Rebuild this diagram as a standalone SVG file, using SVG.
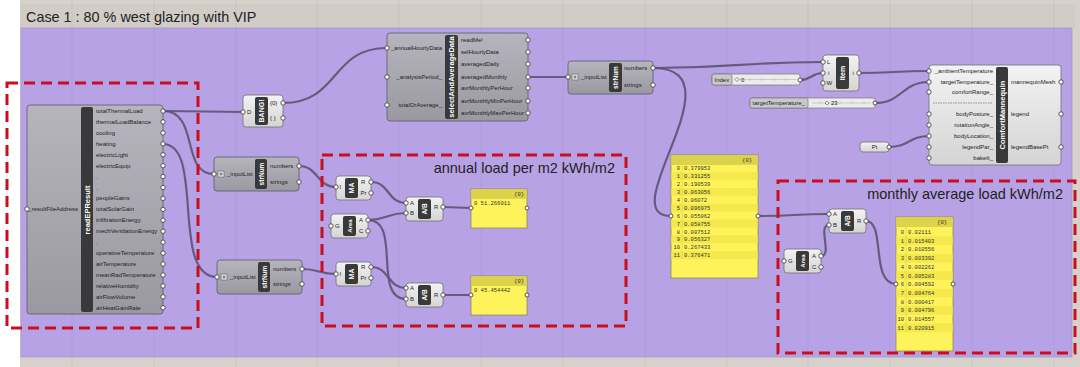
<svg xmlns="http://www.w3.org/2000/svg" width="1080" height="367" viewBox="0 0 1080 367">
<defs>
<linearGradient id="gl" x1="0" y1="0" x2="0" y2="1"><stop offset="0" stop-color="#f3f3f3"/><stop offset="1" stop-color="#d4d4d4"/></linearGradient>
<linearGradient id="gd" x1="0" y1="0" x2="0" y2="1"><stop offset="0" stop-color="#b6b5bd"/><stop offset="1" stop-color="#9a99a2"/></linearGradient>
</defs>
<style>
.wire{fill:none;stroke:#5d5373;stroke-width:2.2;stroke-linecap:round;opacity:.9}
.cl{fill:url(#gl);stroke:#707070;stroke-width:.8}
.cd{fill:url(#gd);stroke:#5c5c64;stroke-width:.8}
.bar{fill:#393939}
.bt{font-family:"Liberation Sans",Arial,sans-serif;font-weight:bold;fill:#fff;text-anchor:middle}
.l{font-family:"Liberation Sans",Arial,sans-serif;font-size:6px;fill:#222}
.e{text-anchor:end}
.m{text-anchor:middle}
.p{fill:#fff;stroke:#333;stroke-width:.8}
.pan{fill:#fff35c;stroke:#8c8a55;stroke-width:.8}
.ph{fill:#dcd24c}
.ps{fill:#f4e84c}
.pt{font-family:"Liberation Mono","DejaVu Sans Mono",monospace;font-size:5.5px;fill:#333}
.red{fill:none;stroke:#c90f1f;stroke-width:3;stroke-dasharray:11 6}
.big{font-family:"Liberation Sans",Arial,sans-serif;font-size:14.5px;fill:#222}
.grid{stroke:#000;stroke-opacity:.05;stroke-width:1}
.sl{fill:#ececec;stroke:#777;stroke-width:.7}
.slb{fill:#c9c9c9;stroke:#777;stroke-width:.7}
</style>
<rect x="0" y="0" width="1080" height="367" fill="#ffffff"/>
<rect x="20" y="0" width="1060" height="367" fill="#d6d2cb"/>
<rect x="20" y="4" width="1055" height="24" fill="#d1cdc6"/>
<text x="26" y="21.5" font-family="Liberation Sans, Arial, sans-serif" font-size="14.4" fill="#222">Case 1 : 80 % west glazing with VIP</text>
<rect x="21" y="28" width="1051" height="329" fill="#b8a2e6" stroke="#a996d0" stroke-width=".8"/>
<g id="grid">
<path class="grid" d="M72,0V367M154,0V367M236,0V367M317,0V367M399,0V367M481,0V367M563,0V367M645,0V367M727,0V367M808,0V367M890,0V367M972,0V367M1054,0V367"/>
</g>

<g id="connectors">
<path class="wire" d="M163,111 C205,111 205,112 243,112"/>
<path class="wire" d="M163,111 C200,111 180,174 214,174"/>
<path class="wire" d="M163,144 C205,144 170,277 217,277"/>
<path class="wire" d="M283,103 C340,103 330,48 387,48"/>
<path class="wire" d="M299,166 C318,166 317,187 336,187"/>
<path class="wire" d="M302,269 C319,269 319,274 336,274"/>
<path class="wire" d="M371,182 C390,182 387,203 406,203"/>
<path class="wire" d="M368,220 C387,220 387,213 406,213"/>
<path class="wire" d="M368,220 C402,220 372,299 406,299"/>
<path class="wire" d="M371,267 C390,267 387,288 406,288"/>
<path class="wire" d="M443,207 L471,208"/>
<path class="wire" d="M443,295 L471,295"/>
<path class="wire" d="M528,77 L568,77"/>
<path class="wire" d="M653,68 C740,68 740,62 823,62"/>
<path class="wire" d="M653,68 C743,68 611,216 671,216"/>
<path class="wire" d="M800,80 C812,80 811,73 823,73"/>
<path class="wire" d="M859,73 C894,73 894,71 929,71"/>
<path class="wire" d="M875,103 C902,103 902,82 929,82"/>
<path class="wire" d="M889,147 C909,147 909,136 929,136"/>
<path class="wire" d="M758,216 C794,216 794,214 829,214"/>
<path class="wire" d="M821,256 C833,256 817,225 829,225"/>
<path class="wire" d="M866,221 C886,221 870,284 896,284"/>
</g>

<g id="readEPResult">
<rect class="cd" x="27" y="105" width="136" height="209" rx="3"/>
<rect class="bar" x="81" y="107" width="12" height="205" rx="2"/>
<text class="bt" font-size="7.5" transform="translate(89.7,210) rotate(-90)">readEPResult</text>
<circle class="p" cx="27" cy="209" r="2.2"/>
<text class="l e" x="78" y="211">_resultFileAddress</text>
<g class="l">
<text x="96" y="113">totalThermalLoad</text>
<text x="96" y="123.9">thermalLoadBalance</text>
<text x="96" y="134.9">cooling</text>
<text x="96" y="145.8">heating</text>
<text x="96" y="156.7">electricLight</text>
<text x="96" y="167.7">electricEquip</text>
<text x="96" y="178.6">.</text>
<text x="96" y="189.5">.</text>
<text x="96" y="200.4">peopleGains</text>
<text x="96" y="211.4">totalSolarGain</text>
<text x="96" y="222.3">infiltrationEnergy</text>
<text x="96" y="233.2">mechVentilationEnergy</text>
<text x="96" y="244.2">.</text>
<text x="96" y="255.1">operativeTemperature</text>
<text x="96" y="266">airTemperature</text>
<text x="96" y="277">meanRadTemperature</text>
<text x="96" y="287.9">relativeHumidity</text>
<text x="96" y="298.8">airFlowVolume</text>
<text x="96" y="309.7">airHeatGainRate</text>
</g>
<g>
<circle class="p" cx="163" cy="111" r="2.2"/><circle class="p" cx="163" cy="121.9" r="2.2"/><circle class="p" cx="163" cy="132.9" r="2.2"/><circle class="p" cx="163" cy="143.8" r="2.2"/><circle class="p" cx="163" cy="154.7" r="2.2"/><circle class="p" cx="163" cy="165.7" r="2.2"/><circle class="p" cx="163" cy="176.6" r="2.2"/><circle class="p" cx="163" cy="187.5" r="2.2"/><circle class="p" cx="163" cy="198.4" r="2.2"/><circle class="p" cx="163" cy="209.4" r="2.2"/><circle class="p" cx="163" cy="220.3" r="2.2"/><circle class="p" cx="163" cy="231.2" r="2.2"/><circle class="p" cx="163" cy="242.2" r="2.2"/><circle class="p" cx="163" cy="253.1" r="2.2"/><circle class="p" cx="163" cy="264" r="2.2"/><circle class="p" cx="163" cy="275" r="2.2"/><circle class="p" cx="163" cy="285.9" r="2.2"/><circle class="p" cx="163" cy="296.8" r="2.2"/><circle class="p" cx="163" cy="307.7" r="2.2"/>
</g>
</g>

<g id="bang">
<rect class="cl" x="243" y="95" width="40" height="32" rx="3"/>
<rect class="bar" x="255" y="97" width="13" height="28" rx="2"/>
<text class="bt" font-size="7" transform="translate(264,111) rotate(-90)">BANG!</text>
<text class="l" x="247" y="114">D</text>
<text class="l" x="270" y="105">{0}</text>
<text class="l" x="270" y="120">{ }</text>
<circle class="p" cx="243" cy="112" r="2.2"/><circle class="p" cx="283" cy="103" r="2.2"/><circle class="p" cx="283" cy="118" r="2.2"/>
</g>

<g id="strNum1">
<rect class="cd" x="214" y="157" width="85" height="34" rx="3"/>
<rect class="bar" x="255" y="159" width="12" height="30" rx="2"/>
<text class="bt" font-size="6.5" transform="translate(263.5,174) rotate(-90)">strNum</text>
<rect x="218" y="171" width="6" height="6" fill="#ddd" stroke="#555" stroke-width=".5"/>
<path d="M221,172.5V175.5M219.5,174H222.5" stroke="#333" stroke-width=".6"/>
<text class="l" x="227" y="176">_inputList</text>
<text class="l" x="270" y="168">numbers</text>
<text class="l" x="270" y="184">strings</text>
<circle class="p" cx="214" cy="174" r="2.2"/><circle class="p" cx="299" cy="166" r="2.2"/><circle class="p" cx="299" cy="182" r="2.2"/>
</g>

<g id="strNum2">
<rect class="cd" x="217" y="260" width="85" height="34" rx="3"/>
<rect class="bar" x="258" y="262" width="12" height="30" rx="2"/>
<text class="bt" font-size="6.5" transform="translate(266.5,277) rotate(-90)">strNum</text>
<rect x="221" y="274" width="6" height="6" fill="#ddd" stroke="#555" stroke-width=".5"/>
<path d="M224,275.5V278.5M222.5,277H225.5" stroke="#333" stroke-width=".6"/>
<text class="l" x="230" y="279">_inputList</text>
<text class="l" x="273" y="271">numbers</text>
<text class="l" x="273" y="286">strings</text>
<circle class="p" cx="217" cy="277" r="2.2"/><circle class="p" cx="302" cy="269" r="2.2"/><circle class="p" cx="302" cy="284" r="2.2"/>
</g>

<g id="selectAndAverageData">
<rect class="cd" x="387" y="33" width="141" height="88" rx="3"/>
<rect class="bar" x="445" y="35" width="13" height="84" rx="2"/>
<text class="bt" font-size="7.5" transform="translate(454.2,77) rotate(-90)">selectAndAverageData</text>
<text class="l e" x="442" y="50">_annualHourlyData</text>
<text class="l e" x="442" y="79">_analysisPeriod_</text>
<text class="l e" x="442" y="107">totalOrAverage_</text>
<text class="l" x="461" y="42">readMe!</text>
<text class="l" x="461" y="54">selHourlyData</text>
<text class="l" x="461" y="66">averagedDaily</text>
<text class="l" x="461" y="79">averagedMonthly</text>
<text class="l" x="461" y="90">avrMonthlyPerHour</text>
<text class="l" x="461" y="103">avrMonthlyMinPerHour</text>
<text class="l" x="461" y="115">avrMonthlyMaxPerHour</text>
<circle class="p" cx="387" cy="48" r="2.2"/><circle class="p" cx="387" cy="77" r="2.2"/><circle class="p" cx="387" cy="105" r="2.2"/>
<circle class="p" cx="528" cy="40" r="2.2"/><circle class="p" cx="528" cy="52" r="2.2"/><circle class="p" cx="528" cy="64" r="2.2"/><circle class="p" cx="528" cy="77" r="2.2"/><circle class="p" cx="528" cy="88" r="2.2"/><circle class="p" cx="528" cy="101" r="2.2"/><circle class="p" cx="528" cy="113" r="2.2"/>
</g>

<g id="strNum3">
<rect class="cd" x="568" y="61" width="85" height="33" rx="3"/>
<rect class="bar" x="609" y="63" width="13" height="29" rx="2"/>
<text class="bt" font-size="6.5" transform="translate(618,77.5) rotate(-90)">strNum</text>
<rect x="572" y="74" width="6" height="6" fill="#ddd" stroke="#555" stroke-width=".5"/>
<path d="M575,75.5V78.5M573.5,77H576.5" stroke="#333" stroke-width=".6"/>
<text class="l" x="581" y="79">_inputList</text>
<text class="l" x="624" y="70">numbers</text>
<text class="l" x="624" y="87">strings</text>
<circle class="p" cx="568" cy="77" r="2.2"/><circle class="p" cx="653" cy="68" r="2.2"/><circle class="p" cx="653" cy="85" r="2.2"/>
</g>

<g id="indexSlider">
<rect class="sl" x="712" y="74" width="88" height="11" rx="2"/>
<rect class="slb" x="712" y="74" width="20" height="11" rx="2"/>
<text class="l" x="714.5" y="81.5">Index</text>
<path d="M737,79.5H796M750,78V81M762,78V81M774,78V81M786,78V81" stroke="#aaa" stroke-width=".5"/>
<path d="M737,77.5L739,79.5L737,81.5L735,79.5Z" fill="#fff" stroke="#444" stroke-width=".6"/>
<text class="l" x="741" y="81.5">0</text>
<circle class="p" cx="800" cy="80" r="2"/>
</g>

<g id="targetSlider">
<rect class="sl" x="750" y="98" width="125" height="10" rx="2"/>
<rect class="slb" x="750" y="98" width="58" height="10" rx="2"/>
<text class="l" x="752.5" y="105">targetTemperature_</text>
<path d="M812,103H871M820,101.5V104.5M840,101.5V104.5M852,101.5V104.5M864,101.5V104.5" stroke="#aaa" stroke-width=".5"/>
<path d="M827,101L829,103L827,105L825,103Z" fill="#fff" stroke="#444" stroke-width=".6"/>
<text class="l" x="831" y="105">23</text>
<circle class="p" cx="875" cy="103" r="2"/>
</g>

<g id="item">
<rect class="cl" x="823" y="55" width="36" height="36" rx="3"/>
<rect class="bar" x="836" y="57" width="13" height="32" rx="2"/>
<text class="bt" font-size="7" transform="translate(845,73) rotate(-90)">Item</text>
<text class="l" x="827" y="64">L</text>
<text class="l" x="828" y="75">i</text>
<text class="l" x="826.5" y="85">W</text>
<text class="l" x="852.5" y="75">i</text>
<circle class="p" cx="823" cy="62" r="2.2"/><circle class="p" cx="823" cy="73" r="2.2"/><circle class="p" cx="823" cy="83" r="2.2"/><circle class="p" cx="859" cy="73" r="2.2"/>
</g>

<g id="pt">
<rect class="cl" x="860" y="142" width="29" height="10" rx="3"/>
<text class="l m" x="874.5" y="149.2">Pt</text>
<circle class="p" cx="889" cy="147" r="2"/>
</g>

<g id="comfortMannequin">
<rect class="cl" x="929" y="65" width="132" height="100" rx="3"/>
<rect class="bar" x="996" y="67" width="12" height="96" rx="2"/>
<text class="bt" font-size="7.5" transform="translate(1004.6,115) rotate(-90)">ComfortMannequin</text>
<text class="l e" x="993" y="73">_ambientTemperature</text>
<text class="l e" x="993" y="84">targetTemperature_</text>
<text class="l e" x="993" y="94">comfortRange_</text>
<path d="M933,103H993" stroke="#555" stroke-width=".6" stroke-dasharray="1.5 1"/>
<text class="l e" x="993" y="116">bodyPosture_</text>
<text class="l e" x="993" y="127">rotationAngle_</text>
<text class="l e" x="993" y="138">bodyLocation_</text>
<text class="l e" x="993" y="149">legendPar_</text>
<text class="l e" x="993" y="160">bakeIt_</text>
<text class="l" x="1011" y="84">mannequinMesh</text>
<text class="l" x="1011" y="116">legend</text>
<text class="l" x="1011" y="149">legendBasePt</text>
<circle class="p" cx="929" cy="71" r="2.2"/><circle class="p" cx="929" cy="82" r="2.2"/><circle class="p" cx="929" cy="92" r="2.2"/><circle class="p" cx="929" cy="114" r="2.2"/><circle class="p" cx="929" cy="125" r="2.2"/><circle class="p" cx="929" cy="136" r="2.2"/><circle class="p" cx="929" cy="147" r="2.2"/><circle class="p" cx="929" cy="158" r="2.2"/>
<circle class="p" cx="1061" cy="82" r="2.2"/><circle class="p" cx="1061" cy="114" r="2.2"/><circle class="p" cx="1061" cy="147" r="2.2"/>
</g>

<g id="ma1">
<rect class="cl" x="336" y="176" width="35" height="24" rx="3"/>
<rect class="bar" x="345" y="178" width="13" height="20" rx="2"/>
<text class="bt" font-size="7" transform="translate(354,188) rotate(-90)">MA</text>
<text class="l" x="339.5" y="189">I</text>
<text class="l" x="361" y="184">R</text>
<text class="l" x="360.5" y="195">Pr</text>
<circle class="p" cx="336" cy="187" r="2.2"/><circle class="p" cx="371" cy="182" r="2.2"/><circle class="p" cx="371" cy="193" r="2.2"/>
</g>

<g id="area1">
<rect class="cl" x="331" y="214" width="37" height="24" rx="3"/>
<rect class="bar" x="343" y="216" width="13" height="20" rx="2"/>
<text class="bt" font-size="6" transform="translate(351.8,226) rotate(-90)">Area</text>
<text class="l" x="335" y="228">G</text>
<text class="l" x="359" y="222">A</text>
<text class="l" x="359" y="233">C</text>
<circle class="p" cx="331" cy="226" r="2.2"/><circle class="p" cx="368" cy="220" r="2.2"/><circle class="p" cx="368" cy="231" r="2.2"/>
</g>

<g id="ab1">
<rect class="cl" x="406" y="197" width="37" height="24" rx="3"/>
<rect class="bar" x="418" y="199" width="13" height="20" rx="2"/>
<text class="bt" font-size="6.5" transform="translate(426.8,209) rotate(-90)">A/B</text>
<text class="l" x="410" y="205">A</text>
<text class="l" x="410" y="215">B</text>
<text class="l" x="434" y="209">R</text>
<circle class="p" cx="406" cy="203" r="2.2"/><circle class="p" cx="406" cy="213" r="2.2"/><circle class="p" cx="443" cy="207" r="2.2"/>
</g>

<g id="panel1">
<rect class="pan" x="471" y="189" width="56" height="39"/>
<rect class="ph" x="471.4" y="189.4" width="55.2" height="9.6"/>
<text class="pt e" x="524" y="196">{0}</text>
<text class="pt" x="474" y="205">0 51.266011</text>
<circle class="p" cx="471" cy="208" r="2"/><circle class="p" cx="527" cy="208" r="2"/>
</g>

<g id="ma2">
<rect class="cl" x="336" y="262" width="35" height="24" rx="3"/>
<rect class="bar" x="345" y="264" width="13" height="20" rx="2"/>
<text class="bt" font-size="7" transform="translate(354,274) rotate(-90)">MA</text>
<text class="l" x="339.5" y="276">I</text>
<text class="l" x="361" y="269">R</text>
<text class="l" x="360.5" y="280">Pr</text>
<circle class="p" cx="336" cy="274" r="2.2"/><circle class="p" cx="371" cy="267" r="2.2"/><circle class="p" cx="371" cy="278" r="2.2"/>
</g>

<g id="ab2">
<rect class="cl" x="406" y="283" width="37" height="24" rx="3"/>
<rect class="bar" x="418" y="285" width="13" height="20" rx="2"/>
<text class="bt" font-size="6.5" transform="translate(426.8,295) rotate(-90)">A/B</text>
<text class="l" x="410" y="290">A</text>
<text class="l" x="410" y="301">B</text>
<text class="l" x="434" y="297">R</text>
<circle class="p" cx="406" cy="288" r="2.2"/><circle class="p" cx="406" cy="299" r="2.2"/><circle class="p" cx="443" cy="295" r="2.2"/>
</g>

<g id="panel2">
<rect class="pan" x="471" y="276" width="56" height="39"/>
<rect class="ph" x="471.4" y="276.4" width="55.2" height="9.6"/>
<text class="pt e" x="524" y="283">{0}</text>
<text class="pt" x="474" y="292">0 45.454442</text>
<circle class="p" cx="471" cy="295" r="2"/><circle class="p" cx="527" cy="295" r="2"/>
</g>

<g id="panelMonthly">
<rect class="pan" x="671" y="155" width="87" height="123"/>
<rect class="ph" x="671.4" y="155.4" width="86.2" height="9.6"/>
<g class="ps">
<rect x="671.4" y="172.2" width="86.2" height="7.9"/><rect x="671.4" y="188" width="86.2" height="7.9"/><rect x="671.4" y="203.8" width="86.2" height="7.9"/><rect x="671.4" y="219.6" width="86.2" height="7.9"/><rect x="671.4" y="235.4" width="86.2" height="7.9"/><rect x="671.4" y="251.2" width="86.2" height="7.9"/>
</g>
<path d="M682,165V259" stroke="#d8cc40" stroke-width=".6"/>
<text class="pt e" x="752" y="162">{0}</text>
<g class="pt">
<text x="680" y="170.3" text-anchor="end">0</text><text x="684" y="170.3">0.379953</text>
<text x="680" y="178.2" text-anchor="end">1</text><text x="684" y="178.2">0.331255</text>
<text x="680" y="186.1" text-anchor="end">2</text><text x="684" y="186.1">0.190539</text>
<text x="680" y="194" text-anchor="end">3</text><text x="684" y="194">0.063056</text>
<text x="680" y="201.9" text-anchor="end">4</text><text x="684" y="201.9">0.06072</text>
<text x="680" y="209.8" text-anchor="end">5</text><text x="684" y="209.8">0.096975</text>
<text x="680" y="217.7" text-anchor="end">6</text><text x="684" y="217.7">0.055062</text>
<text x="680" y="225.6" text-anchor="end">7</text><text x="684" y="225.6">0.058755</text>
<text x="680" y="233.5" text-anchor="end">8</text><text x="684" y="233.5">0.007512</text>
<text x="680" y="241.4" text-anchor="end">9</text><text x="684" y="241.4">0.056327</text>
<text x="680" y="249.3" text-anchor="end">10</text><text x="684" y="249.3">0.267433</text>
<text x="680" y="257.2" text-anchor="end">11</text><text x="684" y="257.2">0.376471</text>
</g>
<circle class="p" cx="671" cy="216" r="2"/><circle class="p" cx="758" cy="216" r="2"/>
</g>

<g id="ab3">
<rect class="cl" x="829" y="209" width="37" height="24" rx="3"/>
<rect class="bar" x="841" y="211" width="13" height="20" rx="2"/>
<text class="bt" font-size="6.5" transform="translate(849.8,221) rotate(-90)">A/B</text>
<text class="l" x="833" y="216">A</text>
<text class="l" x="833" y="227">B</text>
<text class="l" x="857" y="223">R</text>
<circle class="p" cx="829" cy="214" r="2.2"/><circle class="p" cx="829" cy="225" r="2.2"/><circle class="p" cx="866" cy="221" r="2.2"/>
</g>

<g id="area2">
<rect class="cl" x="784" y="249" width="37" height="24" rx="3"/>
<rect class="bar" x="796" y="251" width="13" height="20" rx="2"/>
<text class="bt" font-size="6" transform="translate(804.8,261) rotate(-90)">Area</text>
<text class="l" x="788" y="263">G</text>
<text class="l" x="812" y="258">A</text>
<text class="l" x="812" y="269">C</text>
<circle class="p" cx="784" cy="261" r="2.2"/><circle class="p" cx="821" cy="256" r="2.2"/><circle class="p" cx="821" cy="267" r="2.2"/>
</g>

<g id="panelArea">
<rect class="pan" x="896" y="217" width="57" height="134"/>
<rect class="ph" x="896.4" y="217.4" width="56.2" height="9.6"/>
<g class="ps">
<rect x="896.4" y="236.4" width="56.2" height="8.7"/><rect x="896.4" y="253.8" width="56.2" height="8.7"/><rect x="896.4" y="271.2" width="56.2" height="8.7"/><rect x="896.4" y="288.6" width="56.2" height="8.7"/><rect x="896.4" y="306" width="56.2" height="8.7"/><rect x="896.4" y="323.4" width="56.2" height="8.7"/>
</g>
<path d="M906,227V332" stroke="#d8cc40" stroke-width=".6"/>
<text class="pt e" x="947" y="224">{0}</text>
<g class="pt">
<text x="904" y="234" text-anchor="end">0</text><text x="908" y="234">0.02111</text>
<text x="904" y="242.7" text-anchor="end">1</text><text x="908" y="242.7">0.015403</text>
<text x="904" y="251.4" text-anchor="end">2</text><text x="908" y="251.4">0.010556</text>
<text x="904" y="260.1" text-anchor="end">3</text><text x="908" y="260.1">0.003392</text>
<text x="904" y="268.8" text-anchor="end">4</text><text x="908" y="268.8">0.002262</text>
<text x="904" y="277.5" text-anchor="end">5</text><text x="908" y="277.5">0.005283</text>
<text x="904" y="286.2" text-anchor="end">6</text><text x="908" y="286.2">0.004592</text>
<text x="904" y="294.9" text-anchor="end">7</text><text x="908" y="294.9">0.004764</text>
<text x="904" y="303.6" text-anchor="end">8</text><text x="908" y="303.6">0.000417</text>
<text x="904" y="312.3" text-anchor="end">9</text><text x="908" y="312.3">0.004796</text>
<text x="904" y="321" text-anchor="end">10</text><text x="908" y="321">0.014557</text>
<text x="904" y="329.7" text-anchor="end">11</text><text x="908" y="329.7">0.020915</text>
</g>
<circle class="p" cx="896" cy="284" r="2"/><circle class="p" cx="953" cy="284" r="2"/>
</g>

<g id="groups">
<rect class="red" x="7" y="83" width="191" height="245"/>
<rect class="red" x="322" y="155" width="304" height="171"/>
<text class="big e" x="615" y="173">annual load per m2 kWh/m2</text>
<rect class="red" x="778" y="181" width="297" height="172"/>
<text class="big e" x="1063" y="199">monthly average load kWh/m2</text>
</g>
</svg>
